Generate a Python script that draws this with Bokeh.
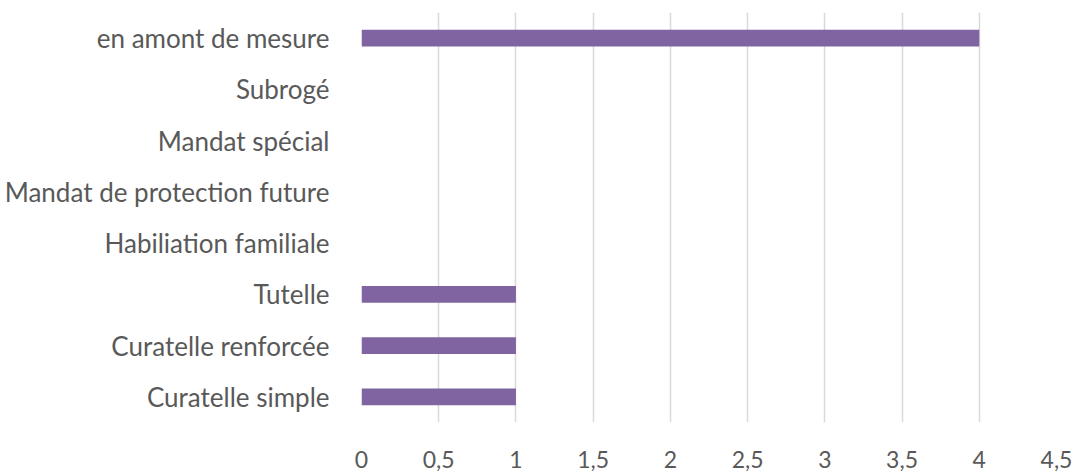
from bokeh.plotting import figure
from bokeh.models import FixedTicker, ColumnDataSource
from bokeh.embed import file_html
from bokeh.resources import INLINE

categories = ["Curatelle simple", "Curatelle renforcée", "Tutelle", "Habiliation familiale",
              "Mandat de protection future", "Mandat spécial", "Subrogé", "en amont de mesure"]
values = [1, 1, 1, 0, 0, 0, 0, 4]
tick_values = [0, 0.5, 1, 1.5, 2, 2.5, 3, 3.5, 4, 4.5]
tick_labels = ["0", "0,5", "1", "1,5", "2", "2,5", "3", "3,5", "4", "4,5"]

src = ColumnDataSource(dict(cat=categories, val=values))

p = figure(width=1075, height=473, y_range=categories, x_range=(0, 4.5),
           output_backend="svg", toolbar_location=None,
           min_border_left=361, min_border_right=19, min_border_top=12, min_border_bottom=51)
p.hbar(y="cat", right="val", left=0, height=0.33, source=src,
       fill_color="#8064A2", line_color=None)

p.outline_line_color = None
p.background_fill_color = "white"
p.border_fill_color = "white"

p.xaxis.ticker = FixedTicker(ticks=tick_values)
p.xaxis.major_label_overrides = {v: l for v, l in zip(tick_values, tick_labels)}
for ax in (p.xaxis, p.yaxis):
    ax.axis_line_color = None
    ax.major_tick_line_color = None
    ax.minor_tick_line_color = None
    ax.major_label_text_font = "Lato"
    ax.major_label_text_color = "#595959"
p.yaxis.major_label_text_font_size = "26px"
p.xaxis.major_label_text_font_size = "23px"
p.xaxis.major_label_standoff = 22
p.yaxis.major_label_standoff = 26

p.xgrid.grid_line_color = "#d9d9d9"
p.xgrid.grid_line_width = 1.5
p.ygrid.grid_line_color = None

open("out.html", "w").write(file_html(p, INLINE))
